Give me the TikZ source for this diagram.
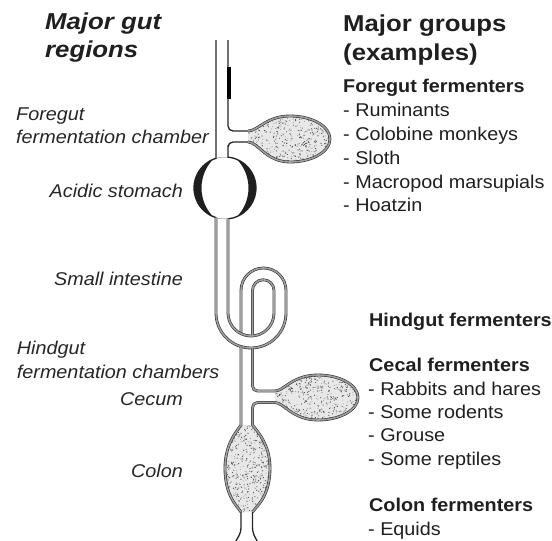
\documentclass[tikz,border=0pt]{standalone}
\usepackage{fontspec}
\setmainfont{Liberation Sans}[FakeStretch=1.07]
\newfontfamily\headfont{Liberation Sans}[FakeStretch=1.12]

% outlines of the fermentation chambers (open at the duct end)
\newcommand\foregutshape{(248,131) .. controls (258,131) and (266,116) .. (290,116)
  arc[start angle=-90, end angle=90, x radius=40, y radius=23]
  .. controls (266,162) and (258,142) .. (248,142)}
\newcommand\cecumshape{(275,391) .. controls (284,391) and (292,375) .. (318,375)
  arc[start angle=-90, end angle=90, x radius=40, y radius=22.5]
  .. controls (292,420) and (284,402.5) .. (275,402.5)}
\newcommand\colonshape{(241,425) .. controls (236,432) and (225,445) .. (225,468)
  .. controls (225,495) and (236,505) .. (241,512) -- (252.5,512)
  .. controls (258,505) and (270,495) .. (270,468)
  .. controls (270,445) and (258,432) .. (252.5,425) -- cycle}

\begin{document}
\begin{tikzpicture}[x=1pt, y=-1pt,
  lbl/.style={inner sep=0pt, font=\fontsize{18.5}{22}\selectfont\itshape, text=black!85},
  lst/.style={inner sep=0pt, anchor=base west, font=\fontsize{18.5}{22}\selectfont, text=black!88},
  grp/.style={inner sep=0pt, anchor=base west, font=\fontsize{18.5}{22}\selectfont\bfseries, text=black!88},
  ttl/.style={inner sep=0pt, anchor=base west, font=\headfont\fontsize{23}{28}\selectfont\bfseries, text=black!88},
  tube/.style={draw=black!85, line width=1.3pt},
  gut/.style={draw=black!80, line width=0.6pt, double=black!38, double distance=1.6pt},
  crescent/.style={fill=black!88, even odd rule},
  chamber/.style={fill=black!9},
  speck/.style={fill=black!70},
  speckl/.style={fill=black!40},
]
\fill[white] (0,0) rectangle (552,541);
\useasboundingbox (0,0) rectangle (552,541);
\pgfmathsetseed{4217}

% ---- stippled contents of the chambers ----
\begin{scope}
  \clip \foregutshape -- cycle;
  \fill[chamber] (240,110) rectangle (335,170);
  \foreach \k in {1,...,300} \fill[speck] ({290+rand*44},{139+rand*24}) circle (0.6);
  \foreach \k in {1,...,260} \fill[speckl] ({290+rand*44},{139+rand*24}) circle (0.5);
\end{scope}
\begin{scope}
  \clip \cecumshape -- cycle;
  \fill[chamber] (268,370) rectangle (362,425);
  \foreach \k in {1,...,300} \fill[speck] ({316+rand*44},{397+rand*24}) circle (0.6);
  \foreach \k in {1,...,260} \fill[speckl] ({316+rand*44},{397+rand*24}) circle (0.5);
\end{scope}
\begin{scope}
  \clip \colonshape;
  \fill[chamber] (220,420) rectangle (275,515);
  \foreach \k in {1,...,340} \fill[speck] ({247.5+rand*24},{468+rand*46}) circle (0.6);
  \foreach \k in {1,...,280} \fill[speckl] ({247.5+rand*24},{468+rand*46}) circle (0.5);
\end{scope}

% ---- oesophagus, duct to the foregut chamber, stomach ----
\draw[tube] (216,40) -- (216,158.3) arc[start angle=253.1, end angle=106.9, radius=31];
\draw[tube] (228,40) [rounded corners=5pt] -- (228,131) -- (248,131);
\draw[tube] (248,142) [rounded corners=5pt] -- (228,142) -- (228,150) [sharp corners]
  -- (228,157.15) arc[start angle=-84.4, end angle=84.4, radius=31];
\draw[black, line width=3.2pt] (229,67) -- (229,99);
\begin{scope}
  \clip (225,188) circle (31);
  \fill[crescent] (225,188) circle (31) (242.77,188) circle (41.27);
  \fill[crescent] (225,188) circle (31) (207.23,188) circle (41.27);
\end{scope}
\draw[gut] \foregutshape;

% ---- small intestine loop ----
\draw[gut] (216,217.7) -- (216,313) arc[start angle=180, end angle=0, radius=35]
  -- (286,290.5) arc[start angle=0, end angle=-180, radius=22.5] -- (241,333.7);
\draw[gut] (228,218.85) -- (228,313) arc[start angle=180, end angle=0, radius=23]
  -- (274,290.5) arc[start angle=0, end angle=-180, radius=10.75] -- (252.5,336);

% ---- hindgut: cecum and colon ----
\draw[gut] (241,346.5) -- (241,425) .. controls (236,432) and (225,445) .. (225,468)
  .. controls (225,495) and (236,505) .. (241,512);
\draw[gut] (252.5,348) [rounded corners=5pt] -- (252.5,391) -- (275,391);
\draw[gut] (275,402.5) [rounded corners=5pt] -- (252.5,402.5) -- (252.5,418) [sharp corners]
  -- (252.5,425) .. controls (258,432) and (270,445) .. (270,468)
  .. controls (270,495) and (258,505) .. (252.5,512);
\draw[gut] \cecumshape;
\draw[tube] (241,512) -- (241,527) .. controls (241,535) and (237,538) .. (235,543);
\draw[tube] (252.5,512) -- (252.5,527) .. controls (252.5,535) and (256,538) .. (258,543);

% ---- left column: gut regions ----
\node[ttl, font=\headfont\fontsize{23}{28}\selectfont\bfseries\itshape] (lt1) at (45,29) {Major gut};
\node[ttl, font=\headfont\fontsize{23}{28}\selectfont\bfseries\itshape] (lt2) at (45,57) {regions};
\node[lbl, anchor=base west] (fg1) at (16,120) {Foregut};
\node[lbl, anchor=base west] (fg2) at (16,143.3) {fermentation chamber};
\node[lbl, anchor=base east] (st) at (183,197) {Acidic stomach};
\node[lbl, anchor=base east] (si) at (183,285) {Small intestine};
\node[lbl, anchor=base west] (hg1) at (16.7,354) {Hindgut};
\node[lbl, anchor=base west] (hg2) at (16.7,378) {fermentation chambers};
\node[lbl, anchor=base east] (ce) at (183,405) {Cecum};
\node[lbl, anchor=base east] (co) at (183,477) {Colon};

% ---- right column: groups and examples ----
\node[ttl] (rt1) at (343,31.5) {Major groups};
\node[ttl] (rt2) at (343,60) {(examples)};
\node[grp] (ff) at (343,92) {Foregut fermenters};
\node[lst] (ff1) at (343,116.7) {- Ruminants};
\node[lst] (ff2) at (343,140.5) {- Colobine monkeys};
\node[lst] (ff3) at (343,164.2) {- Sloth};
\node[lst] (ff4) at (343,188) {- Macropod marsupials};
\node[lst] (ff5) at (343,211.7) {- Hoatzin};
\node[grp] (hf) at (369,326.7) {Hindgut fermenters};
\node[grp] (cf) at (369,371.7) {Cecal fermenters};
\node[lst] (cf1) at (368,395) {- Rabbits and hares};
\node[lst] (cf2) at (368,418.3) {- Some rodents};
\node[lst] (cf3) at (368,441.7) {- Grouse};
\node[lst] (cf4) at (368,465) {- Some reptiles};
\node[grp] (cof) at (369,511.7) {Colon fermenters};
\node[lst] (cof1) at (368,535) {- Equids};
\end{tikzpicture}
\end{document}
